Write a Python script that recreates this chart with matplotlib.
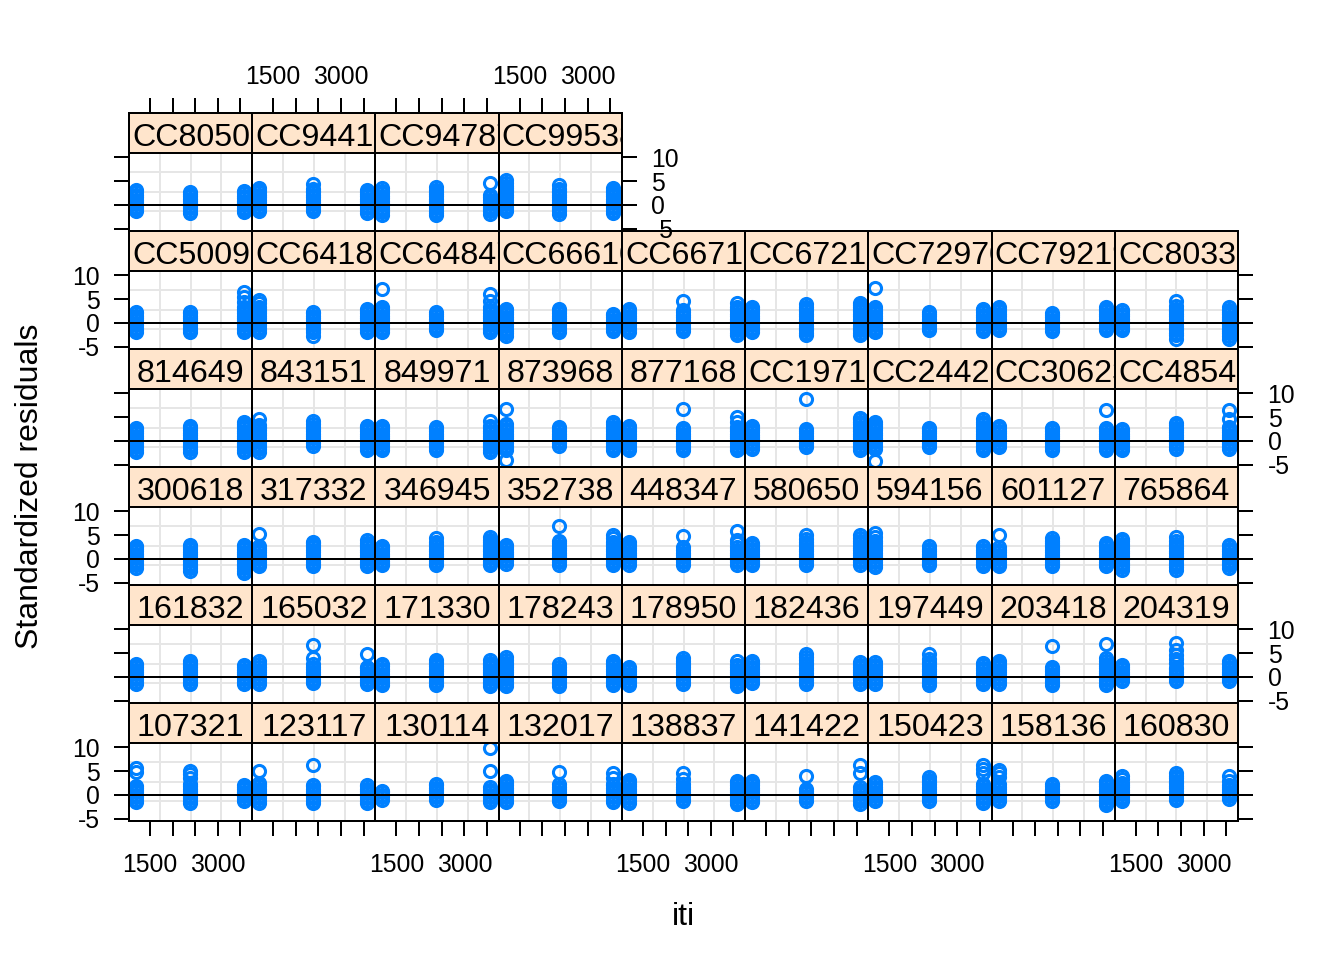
import matplotlib
matplotlib.use('Agg')
import matplotlib.pyplot as plt

plt.rcParams['font.family'] = ['Liberation Sans', 'DejaVu Sans']
plt.rcParams['axes.unicode_minus'] = False

# ---------------- data ----------------
subjects = ['107321', '123117', '130114', '132017', '138837', '141422', '150423', '158136', '160830',
            '161832', '165032', '171330', '178243', '178950', '182436', '197449', '203418', '204319',
            '300618', '317332', '346945', '352738', '448347', '580650', '594156', '601127', '765864',
            '814649', '843151', '849971', '873968', '877168', 'CC19710', 'CC24429', 'CC30623', 'CC48540',
            'CC5009', 'CC64180', 'CC64847', 'CC66610', 'CC66710', 'CC67213', 'CC72970', 'CC79219', 'CC80339',
            'CC80509', 'CC94413', 'CC94787', 'CC99538']

iti_levels = [1190, 2380, 3570]

# standardized residuals at the first iti level, one string per subject
resid_iti1 = [
    "-1.5 -1 -.5 0 .5 1 1.5 1.8 4.9 5.7",
    "-1.7 -1.2 -.7 -.2 .3 .8 1.3 1.8 2.3 2.5 5.0",
    "-1.0 -.5 0 .5 .9",
    "-1.5 -1 -.5 0 .5 1 1.5 2 2.5 3.0",
    "-1.7 -1.2 -.7 -.2 .3 .8 1.3 1.8 2.3 2.8 3.2",
    "-1.5 -1 -.5 0 .5 1 1.5 2 2.5 3",
    "-1.3 -.8 -.3 .2 .7 1.2 1.7 2.2 2.7",
    "-1.3 -.8 -.3 .2 .7 1.2 1.7 2.2 3.8 4.5 5.2",
    "-1.4 -.9 -.4 .1 .6 1.1 1.6 2.1 2.5 3.3 4.0",
    "-1.5 -1 -.5 0 .5 1 1.5 2 2.5 2.8",
    "-1.5 -1 -.5 0 .5 1 1.5 2 2.6 3.4",
    "-1.8 -1.3 -.8 -.3 .2 .7 1.2 1.7 2.2 2.6",
    "-2 -1.5 -1 -.5 0 .5 1 1.5 2 2.5 3 3.5 4.1",
    "-1.8 -1.3 -.8 -.3 .2 .7 1.2 1.7 2.1",
    "-1.4 -.9 -.4 .1 .6 1.1 1.6 2.1 2.6 3.0 3.4",
    "-1.5 -1 -.5 0 .5 1 1.5 2 2.5 3.2",
    "-1.5 -1 -.5 0 .5 1 1.5 2 2.5 3 3.4",
    "-.9 -.4 .1 .6 1.1 1.6 2.1 2.4",
    "-1.9 -1.4 -.9 -.4 .1 .6 1.1 1.6 2.1 2.5 2.8",
    "-1.6 -1.1 -.6 -.1 .4 .9 1.4 1.9 2.3 2.6 5.3",
    "-1.4 -.9 -.4 .1 .6 1.1 1.6 2.1 2.5 2.8",
    "-1 -.5 0 .5 1 1.5 2 2.5 3.0",
    "-1.2 -.7 -.2 .3 .8 1.3 1.8 2.3 2.8 3.2 3.6",
    "-1.4 -.9 -.4 .1 .6 1.1 1.6 2.1 2.6 3.0 3.4",
    "-1.7 -1.2 -.7 -.2 .3 .8 1.3 1.8 2.3 2.8 3.3 3.8 4.5 5.4",
    "-1.6 -1.1 -.6 -.1 .4 .9 1.4 1.9 2.4 5.1",
    "-2.3 -1.8 -1.3 -.8 -.3 .2 .7 1.2 1.7 2.2 2.7 3.2 3.7 4.2",
    "-2.4 -1.9 -1.4 -.9 -.4 .1 .6 1.1 1.6 2.1 2.5 2.8",
    "-2.3 -1.8 -1.3 -.8 -.3 .2 .7 1.2 1.7 2.2 2.7 3.0 3.4 4.6",
    "-2 -1.5 -1 -.5 0 .5 1 1.5 2 2.5 2.9 3.2",
    "-4.1 -2 -1.5 -1 -.5 0 .5 1 1.5 2 2.5 3.1 3.6 6.7",
    "-2 -1.5 -1 -.5 0 .5 1 1.5 2 2.5 2.9 3.2",
    "-1.7 -1.2 -.7 -.2 .3 .8 1.3 1.8 2.3 2.7 3.1",
    "-4.3 -1.8 -1.3 -.8 -.3 .2 .7 1.2 1.7 2.2 2.7 3.2 3.6 3.9",
    "-1.4 -.9 -.4 .1 .6 1.1 1.6 2.1 2.6 3.1",
    "-2 -1.5 -1 -.5 0 .5 1 1.5 2 2.5",
    "-2 -1.5 -1 -.5 0 .5 1 1.5 2 2.3",
    "-2 -1.5 -1 -.5 0 .5 1 1.5 2 2.5 3 3.3 4.1 4.9",
    "-2 -1.5 -1 -.5 0 .5 1 1.5 2 2.5 3 3.3 7.2",
    "-2.8 -2.2 -1.7 -1.2 -.7 -.2 .3 .8 1.3 1.8 2.3 2.7 3.0",
    "-2 -1.5 -1 -.5 0 .5 1 1.5 2 2.5 3.0",
    "-2 -1.5 -1 -.5 0 .5 1 1.5 2 2.5 3 3.3",
    "-2 -1.5 -1 -.5 0 .5 1 1.5 2 2.5 3 3.3 7.4",
    "-1.6 -1.1 -.6 -.1 .4 .9 1.4 1.9 2.4 2.9 3.4",
    "-1.6 -1.1 -.6 -.1 .4 .9 1.4 1.9 2.4 2.7",
    "-1.4 -.9 -.4 .1 .6 1.1 1.6 2.1 2.6 3.1",
    "-1.4 -.9 -.4 .1 .6 1.1 1.6 2.1 2.6 3.1 3.6",
    "-2.1 -1.6 -1.1 -.6 -.1 .4 .9 1.4 1.9 2.4 3.0 3.6",
    "-1.4 -.9 -.4 .1 .6 1.1 1.6 2.1 2.6 3.1 3.5 3.9 4.6 5.2",
]

# standardized residuals at the second iti level
resid_iti2 = [
    "-1.7 -1.2 -.7 -.2 .3 .8 1.3 1.8 2.2 3.6 4.4 5.0",
    "-1.7 -1.2 -.7 -.2 .3 .8 1.3 1.8 2.0 6.2",
    "-1.0 -.5 0 .5 1 1.5 2 2.3",
    "-1.3 -.8 -.3 .2 .7 1.2 1.7 2.2 4.7",
    "-1.3 -.8 -.3 .2 .7 1.2 1.7 2.2 3.4 4.6",
    "-1.2 -.7 -.2 .3 .8 1.3 4.0",
    "-1.3 -.8 -.3 .2 .7 1.2 1.7 2.2 2.7 3.2 3.7",
    "-1.2 -.7 -.2 .3 .8 1.3 1.8 2.2",
    "-1.1 -.6 -.1 .4 .9 1.4 1.9 2.4 3.0 3.5 4.0 4.6",
    "-1.5 -1 -.5 0 .5 1 1.5 2 2.5 3 3.4",
    "-1.4 -.9 -.4 .1 .6 1.1 1.6 2.1 2.6 4.0 6.6",
    "-1.8 -1.3 -.8 -.3 .2 .7 1.2 1.7 2.2 2.7 3.2 3.6",
    "-2 -1.5 -1 -.5 0 .5 1 1.5 2 2.6",
    "-1.5 -1 -.5 0 .5 1 1.5 2 2.5 3 3.4 3.9",
    "-1.6 -1.1 -.6 -.1 .4 .9 1.4 1.9 2.4 2.9 3.5 4.1 4.7",
    "-1.8 -1.3 -.8 -.3 .2 .7 1.2 1.7 2.2 2.7 3.2 3.8 4.7",
    "-1.8 -1.3 -.8 -.3 .2 .7 1.2 1.7 2.1 6.4",
    "-.9 -.4 .1 .6 1.1 1.6 1.8 3.0 3.8 4.6 5.6 7.1",
    "-2.6 -2.0 -1.5 -1 -.5 0 .5 1 1.5 2 2.5 3.0",
    "-1.6 -1.1 -.6 -.1 .4 .9 1.4 1.9 2.4 2.9 3.3 3.6",
    "-1.4 -.9 -.4 .1 .6 1.1 1.6 2.1 2.6 3.1 3.6 4.4",
    "-1.2 -.7 -.2 .3 .8 1.3 1.8 2.3 2.8 3.3 3.8 7.0",
    "-1.2 -.7 -.2 .3 .8 1.3 1.8 2.4 4.9",
    "-1.4 -.9 -.4 .1 .6 1.1 1.6 2.1 2.6 3.1 3.6 4.2 5.1",
    "-1.4 -.9 -.4 .1 .6 1.1 1.6 2.1 2.6",
    "-1.6 -1.1 -.6 -.1 .4 .9 1.4 1.9 2.4 2.9 3.4 3.8 4.4",
    "-2.3 -1.8 -1.3 -.8 -.3 .2 .7 1.2 1.7 2.2 2.7 3.2 3.7 4.5",
    "-2.3 -1.8 -1.3 -.8 -.3 .2 .7 1.2 1.7 2.2 2.7 3.2",
    "-1 -.5 0 .5 1 1.5 2 2.5 3 3.5 4.1",
    "-2 -1.5 -1 -.5 0 .5 1 1.5 2 2.5 3.0",
    "-1 -.5 0 .5 1 1.5 2 2.5 3.0",
    "-2 -1.5 -1 -.5 0 .5 1 1.5 2 2.4 2.8 6.7",
    "-1.4 -.9 -.4 .1 .6 1.1 1.6 2.1 2.5 8.8",
    "-1.4 -.9 -.4 .1 .6 1.1 1.6 2.1 2.5 2.8",
    "-2 -1.5 -1 -.5 0 .5 1 1.5 2 2.5 2.8",
    "-1.7 -1.2 -.7 -.2 .3 .8 1.3 1.8 2.3 2.8 3.3 3.8",
    "-2 -1.5 -1 -.5 0 .5 1 1.5 2 2.3",
    "-2.7 -2.0 -1.5 -1 -.5 0 .5 1 1.5 2 2.3",
    "-1.6 -1.1 -.6 -.1 .4 .9 1.4 1.9 2.3",
    "-2 -1.5 -1 -.5 0 .5 1 1.5 2 2.5 3.0",
    "-1.8 -1.3 -.8 -.3 .2 .7 1.2 1.7 2.2 2.6 4.6",
    "-2.6 -2.1 -1.6 -1.1 -.6 -.1 .4 .9 1.4 1.9 2.4 2.9 3.4 4.0",
    "-1.6 -1.1 -.6 -.1 .4 .9 1.4 1.9 2.3",
    "-1.8 -1.3 -.8 -.3 .2 .7 1.2 1.7 2.0",
    "-3.3 -2.6 -2.1 -1.6 -1.1 -.6 -.1 .4 .9 1.4 1.9 2.4 2.9 3.5 4.6",
    "-1.7 -1.2 -.7 -.2 .3 .8 1.3 1.8 2.3 2.8",
    "-1.4 -.9 -.4 .1 .6 1.1 1.6 2.1 2.6 3.0 3.4 4.3",
    "-2.2 -1.7 -1.2 -.7 -.2 .3 .8 1.3 1.8 2.3 2.8 3.2 3.7",
    "-1.9 -1.4 -.9 -.4 .1 .6 1.1 1.6 2.1 2.6 3.0 3.3 4.2",
]

# standardized residuals at the third iti level
resid_iti3 = [
    "-1.3 -.8 -.3 .2 .7 1.2 1.7 2.0",
    "-1.7 -1.2 -.7 -.2 .3 .8 1.3 1.8 2.0",
    "-1.5 -1 -.5 0 .5 1 1.6 5.1 9.8",
    "-1.5 -1 -.5 0 .5 1 1.5 2 2.2 3.5 4.5",
    "-2 -1.5 -1 -.5 0 .5 1 1.5 2 2.5 3",
    "-1.9 -1.4 -.9 -.4 .1 .6 1.1 1.6 4.5 6.3",
    "-1.7 -1.2 -.7 -.2 .3 .8 1.3 1.8 2.2 4.5 5.5 6.3",
    "-2.2 -1.7 -1.2 -.7 -.2 .3 .8 1.3 1.8 2.3 2.8 3.0",
    "-.8 -.3 .2 .7 1.2 1.7 2.0 3.0 3.9",
    "-1.5 -1 -.5 0 .5 1 1.5 2 2.5",
    "-1.6 -1.1 -.6 -.1 .4 .9 1.4 1.9 2.1 4.8",
    "-2 -1.5 -1 -.5 0 .5 1 1.5 2 2.5 3 3.6",
    "-1.8 -1.3 -.8 -.3 .2 .7 1.2 1.7 2.2 2.7 3.0 3.4",
    "-2 -1.5 -1 -.5 0 .5 1 1.5 2 2.5 3.3",
    "-1.5 -1 -.5 0 .5 1 1.5 2 2.5 3.2",
    "-1.6 -1.1 -.6 -.1 .4 .9 1.4 1.9 2.4 3.0",
    "-1.7 -1.2 -.7 -.2 .3 .8 1.3 1.8 2.3 2.8 3.3 4.0 7.0",
    "-.9 -.4 .1 .6 1.1 1.6 2.1 2.6 3.0 3.3",
    "-3.0 -2.5 -2 -1.5 -1 -.5 0 .5 1 1.5 2 2.5 3.0",
    "-1.6 -1.1 -.6 -.1 .4 .9 1.4 1.9 2.4 2.9 3.4 3.9",
    "-1.4 -.9 -.4 .1 .6 1.1 1.6 2.1 2.6 3.1 3.6 4.0 4.5",
    "-1.4 -.9 -.4 .1 .6 1.1 1.6 2.1 2.6 3.1 3.6 4.3 5.1",
    "-1.2 -.7 -.2 .3 .8 1.3 1.8 2.4 3.4 4.0 5.9",
    "-1.2 -.7 -.2 .3 .8 1.3 1.8 2.3 2.8 3.3 3.8 4.4 5.1",
    "-1.6 -1.1 -.6 -.1 .4 .9 1.4 1.9 2.4 2.8",
    "-1.6 -1.1 -.6 -.1 .4 .9 1.4 1.9 2.4 2.9 3.3",
    "-1.9 -1.4 -.9 -.4 .1 .6 1.1 1.6 2.1 2.6 3.0",
    "-2.4 -1.9 -1.4 -.9 -.4 .1 .6 1.1 1.6 2.1 2.6 3.1 3.5 3.9",
    "-2 -1.5 -1 -.5 0 .5 1 1.5 2 2.5 2.9 3.2",
    "-2.4 -1.9 -1.4 -.9 -.4 .1 .6 1.1 1.6 2.1 2.6 3.2 4.1",
    "-2 -1.5 -1 -.5 0 .5 1 1.5 2 2.5 3 3.5 3.9",
    "-2 -1.5 -1 -.5 0 .5 1 1.5 2 2.5 3.0 4.0 5.0",
    "-2 -1.5 -1 -.5 0 .5 1 1.5 2 2.5 3 3.5 4.0 4.5 4.9",
    "-2 -1.5 -1 -.5 0 .5 1 1.5 2 2.5 3 3.5 4.0 4.5",
    "-2 -1.5 -1 -.5 0 .5 1 1.5 2 2.5 2.8 6.4",
    "-1.7 -1.2 -.7 -.2 .3 .8 1.3 1.8 2.3 2.7 3.0 4.5 6.4",
    "-2 -1.5 -1 -.5 0 .5 1 1.5 2 2.5 3 3.3 4.4 5.4 6.5",
    "-2 -1.5 -1 -.5 0 .5 1 1.5 2 2.5 3.0",
    "-2 -1.5 -1 -.5 0 .5 1 1.5 2 2.6 3.4 4.5 6.0",
    "-1.8 -1.3 -.8 -.3 .2 .7 1.2 1.6 1.9",
    "-2.6 -2.1 -1.6 -1.1 -.6 -.1 .4 .9 1.4 1.9 2.4 2.9 3.4 4.1",
    "-2.6 -2.1 -1.6 -1.1 -.6 -.1 .4 .9 1.4 1.9 2.4 2.9 3.4 3.8 4.1",
    "-1.8 -1.3 -.8 -.3 .2 .7 1.2 1.7 2.2 2.7 3.0",
    "-1.6 -1.1 -.6 -.1 .4 .9 1.4 1.9 2.4 2.9 3.3",
    "-3.5 -2.7 -2.2 -1.7 -1.2 -.7 -.2 .3 .8 1.3 1.8 2.3 2.8 3.3",
    "-1.6 -1.1 -.6 -.1 .4 .9 1.4 1.9 2.4 2.9",
    "-1.7 -1.2 -.7 -.2 .3 .8 1.3 1.8 2.3 2.7 3.1",
    "-1.9 -1.4 -.9 -.4 .1 .6 1.1 1.6 2.1 4.5",
    "-1.7 -1.2 -.7 -.2 .3 .8 1.3 1.8 2.3 2.8 3.2 3.6",
]

x_ticks = [1500, 2000, 2500, 3000, 3500]
x_ticklabels = ['1500', '', '', '3000', '']
y_ticks = [-5, 0, 5, 10]
y_ticklabels = ['-5', '0', '5', '10']
x_label = 'iti'
y_label = 'Standardized residuals'

# ---------------- layout / style ----------------
W, H = 1344, 960
X0, X1 = 129, 1238
NCOL, NROW = 9, 6
CW = (X1 - X0) / NCOL
TOP = 113
RH = 118
SH = 39.5
XLIM = (1035, 3760)
YLIM = (-5.5, 11.0)
LW = 1.44
PT_COL = '#0080ff'
STRIP_COL = '#ffe5cc'
GRID_COL = '#e6e6e6'
TICK_FS = 17.8
STRIP_FS = 23.2
LAB_FS = 23
TICK_LEN = 10.8

fig = plt.figure(figsize=(W / 100, H / 100), dpi=100)

series = [resid_iti1, resid_iti2, resid_iti3]
n = len(subjects)

for i, subj in enumerate(subjects):
    rb, c = divmod(i, NCOL)
    k = NROW - 1 - rb          # row index from top
    top = TOP + k * RH
    left = X0 + c * CW
    last_in_row = (c == NCOL - 1) or (i == n - 1)

    axp = fig.add_axes([left / W, 1 - (top + RH) / H, CW / W, (RH - SH) / H])
    axs = fig.add_axes([left / W, 1 - (top + SH) / H, CW / W, SH / H])

    # panel
    axp.set_xlim(*XLIM)
    axp.set_ylim(*YLIM)
    for f in (0.25, 0.5, 0.75):
        axp.axvline(XLIM[0] + f * (XLIM[1] - XLIM[0]), color=GRID_COL, lw=LW, zorder=1)
        axp.axhline(YLIM[0] + f * (YLIM[1] - YLIM[0]), color=GRID_COL, lw=LW, zorder=1)
    for lev, ser in zip(iti_levels, series):
        vals = [float(v) for v in ser[i].split()]
        axp.plot([lev] * len(vals), vals, linestyle='none', marker='o', ms=8.7,
                 mfc='none', mec=PT_COL, mew=2.2, zorder=3)
    axp.axhline(0, color='black', lw=LW, zorder=4)

    axp.set_xticks(x_ticks)
    axp.set_xticklabels(x_ticklabels)
    axp.set_yticks(y_ticks)
    axp.set_yticklabels(y_ticklabels)
    axp.tick_params(axis='x', direction='out', length=TICK_LEN, width=LW,
                    labelsize=TICK_FS, pad=12.5,
                    bottom=(rb == 0), top=False,
                    labelbottom=(rb == 0 and c % 2 == 0), labeltop=False)
    axp.tick_params(axis='y', direction='out', length=TICK_LEN, width=LW,
                    labelsize=TICK_FS, pad=10.5,
                    left=(c == 0), right=last_in_row,
                    labelleft=(c == 0 and k % 2 == 1),
                    labelright=(last_in_row and k % 2 == 0))
    for sp in axp.spines.values():
        sp.set_linewidth(LW)
        sp.set_color('black')
        sp.set_zorder(5)

    # strip
    axs.set_facecolor(STRIP_COL)
    axs.set_xlim(*XLIM)
    axs.set_ylim(0, 1)
    axs.set_yticks([])
    axs.set_xticks(x_ticks)
    axs.set_xticklabels(x_ticklabels)
    axs.tick_params(axis='x', direction='out', length=TICK_LEN, width=LW,
                    labelsize=TICK_FS, pad=6.5,
                    bottom=False, labelbottom=False,
                    top=(k == 0), labeltop=(k == 0 and c % 2 == 1))
    for sp in axs.spines.values():
        sp.set_linewidth(LW)
        sp.set_color('black')
    if subj.startswith('CC'):
        axs.text(3.2 / CW, 0.165, subj, transform=axs.transAxes, ha='left',
                 va='baseline', fontsize=STRIP_FS, clip_on=True)
    else:
        axs.text(0.5, 0.165, subj, transform=axs.transAxes, ha='center',
                 va='baseline', fontsize=STRIP_FS, clip_on=True)

fig.text(30 / W, 1 - 486 / H, y_label, rotation=90, ha='center', va='center', fontsize=LAB_FS)
fig.text((X0 + X1) / 2 / W, 1 - 917 / H, x_label, ha='center', va='center', fontsize=LAB_FS)

fig.savefig('out.png', dpi=100)
